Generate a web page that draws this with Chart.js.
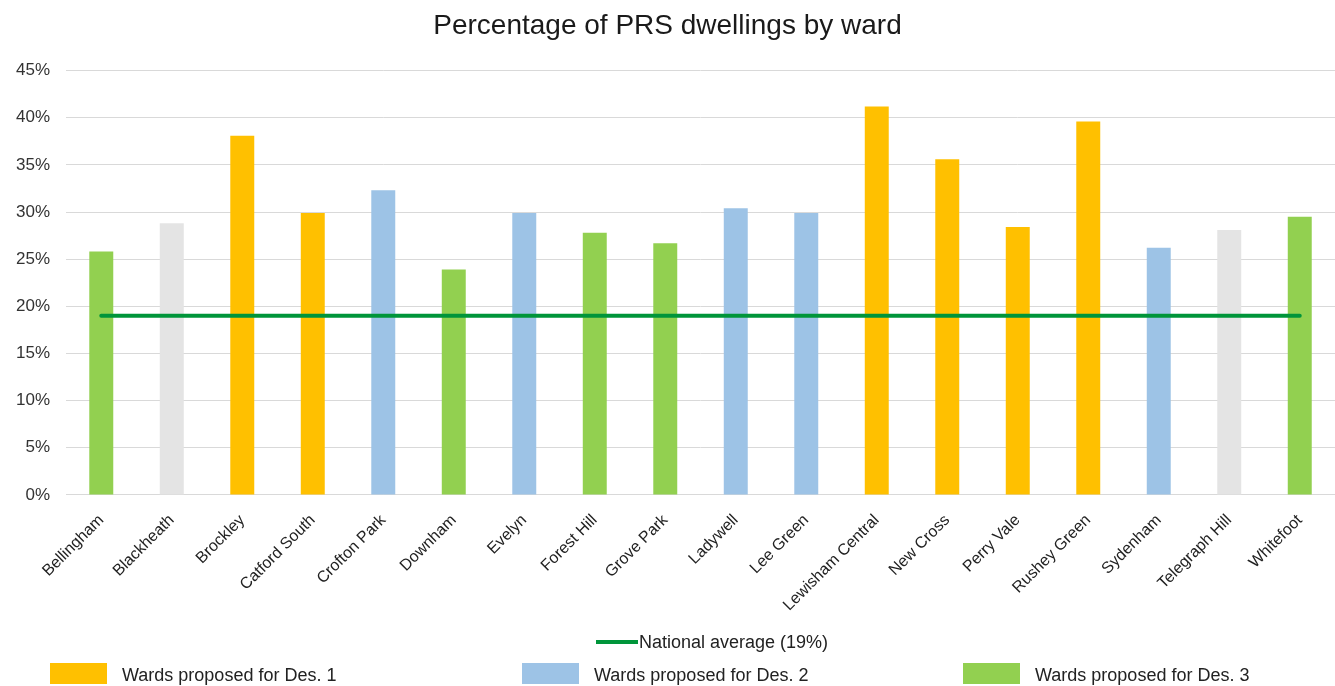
<!DOCTYPE html>
<html>
<head>
<meta charset="utf-8">
<script src="https://cdn.jsdelivr.net/npm/chart.js@4.4.1/dist/chart.umd.min.js"></script>
<style>
  html, body { margin: 0; padding: 0; background: #fff; }
  #wrap { width: 1335px; height: 686px; position: relative; }
</style>
</head>
<body>
<div id="wrap"><canvas id="prs"></canvas></div>
<script>
// wards on the x axis
var wards = ['Bellingham', 'Blackheath', 'Brockley', 'Catford South', 'Crofton Park', 'Downham',
    'Evelyn', 'Forest Hill', 'Grove Park', 'Ladywell', 'Lee Green', 'Lewisham Central',
    'New Cross', 'Perry Vale', 'Rushey Green', 'Sydenham', 'Telegraph Hill', 'Whitefoot'];
// % of PRS dwellings
var prsShare = [25.8, 28.8, 38.1, 29.9, 32.3, 23.9, 29.9, 27.8, 26.7, 30.4, 29.9, 41.2,
    35.6, 28.4, 39.6, 26.2, 28.1, 29.5];
// designation group per ward (0 = none)
var desGroup = [3, 0, 1, 1, 2, 3, 2, 3, 3, 2, 2, 1, 1, 1, 1, 2, 0, 3];
var nationalAvg = [19, 19, 19, 19, 19, 19, 19, 19, 19, 19, 19, 19, 19, 19, 19, 19, 19, 19];
var yTicks = [0, 5, 10, 15, 20, 25, 30, 35, 40, 45];

var groupColors = ['#E4E4E4', '#FFC000', '#9DC3E6', '#92D050'];
var groupNames = ['', 'Wards proposed for Des. 1', 'Wards proposed for Des. 2', 'Wards proposed for Des. 3'];
var lineColor = '#00953A';

Chart.defaults.font.family = '"Liberation Sans", Arial, sans-serif';

// legend drawn under the axis labels
var bottomLegend = {
    id: 'bottomLegend',
    afterDraw: function (chart) {
        var ctx = chart.ctx;
        ctx.save();
        ctx.font = '18px "Liberation Sans", Arial, sans-serif';
        ctx.fillStyle = '#222';
        ctx.textBaseline = 'middle';
        // line item
        ctx.strokeStyle = lineColor;
        ctx.lineWidth = 4;
        ctx.beginPath();
        ctx.moveTo(596, 642);
        ctx.lineTo(638, 642);
        ctx.stroke();
        ctx.fillText('National average (19%)', 639, 643);
        // box items
        var xs = [50, 522, 963];
        for (var i = 1; i <= 3; i++) {
            ctx.fillStyle = groupColors[i];
            ctx.fillRect(xs[i - 1], 663, 57, 21);
            ctx.fillStyle = '#222';
            ctx.fillText(groupNames[i], xs[i - 1] + 72, 676);
        }
        ctx.restore();
    }
};

var prs_chart = new Chart(document.getElementById('prs'), {
    type: 'bar',
    data: {
        labels: wards,
        datasets: [
            {
                type: 'line',
                label: 'National average (19%)',
                data: nationalAvg,
                borderColor: lineColor,
                borderWidth: 4,
                borderCapStyle: 'round',
                pointRadius: 0,
                fill: false,
                order: 0
            },
            {
                label: 'PRS dwellings',
                data: prsShare,
                backgroundColor: desGroup.map(function (g) { return groupColors[g]; }),
                barPercentage: 0.34,
                categoryPercentage: 1,
                order: 1
            }
        ]
    },
    options: {
        responsive: true,
        maintainAspectRatio: false,
        animation: false,
        layout: { padding: { left: 0, right: 0, top: 0, bottom: 63 } },
        plugins: {
            legend: { display: false },
            tooltip: { enabled: false },
            title: {
                display: true,
                text: 'Percentage of PRS dwellings by ward',
                color: '#1a1a1a',
                font: { size: 28, weight: 'normal' },
                padding: { top: 9, bottom: 28 }
            }
        },
        scales: {
            x: {
                offset: true,
                grid: { display: false },
                border: { display: true, color: '#d9d9d9', width: 1 },
                ticks: {
                    color: '#222',
                    font: { size: 16 },
                    minRotation: 45,
                    maxRotation: 45,
                    autoSkip: false,
                    padding: 8
                }
            },
            y: {
                min: 0,
                max: 45,
                afterBuildTicks: function (axis) {
                    axis.ticks = yTicks.map(function (v) { return { value: v }; });
                },
                grid: { color: '#d9d9d9', lineWidth: 1, drawTicks: false },
                border: { display: false },
                ticks: {
                    color: '#333',
                    font: { size: 17 },
                    padding: 16,
                    callback: function (v) { return v + '%'; }
                }
            }
        }
    },
    plugins: [bottomLegend]
});
</script>
</body>
</html>
